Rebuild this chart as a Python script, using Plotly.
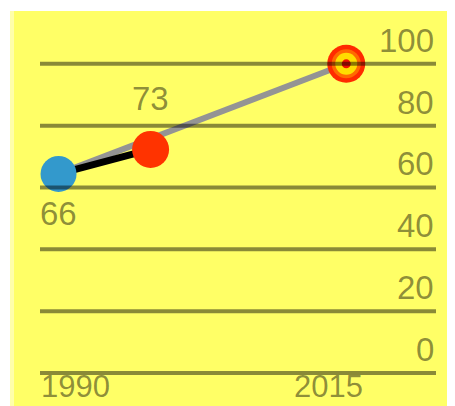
import plotly.graph_objects as go

# ---- data ----
years = [1990, 1998, 2015]          # baseline, latest, target
values = [64.4, 72.3, 100]          # plotted positions
point_labels = ["66", "73"]         # labels printed beside baseline / latest
y_ticks = [0, 20, 40, 60, 80, 100]
y_tick_labels = ["0", "20", "40", "60", "80", "100"]
x_tick_years = [1990, 2015]
x_tick_labels = ["1990", "2015"]

YELLOW = "#ffff66"
INK = "rgba(0,0,0,0.46)"
FONT = "Liberation Sans, Arial, sans-serif"

fig = go.Figure()

# gray line baseline -> target
fig.add_trace(go.Scatter(x=[years[0], years[2]], y=[values[0], values[2]], mode="lines",
                         line=dict(color="#949494", width=6), cliponaxis=False, hoverinfo="skip"))
# black line baseline -> latest
fig.add_trace(go.Scatter(x=[years[0], years[1]], y=[values[0], values[1]], mode="lines",
                         line=dict(color="#000000", width=7), cliponaxis=False, hoverinfo="skip"))
# baseline point
fig.add_trace(go.Scatter(x=[years[0]], y=[values[0]], mode="markers",
                         marker=dict(size=36, color="#3399cc", line=dict(width=0)), cliponaxis=False))
# latest point
fig.add_trace(go.Scatter(x=[years[1]], y=[values[1]], mode="markers",
                         marker=dict(size=37, color="#ff3300", line=dict(width=0)), cliponaxis=False))
# target bullseye
for size, color in [(38, "#ff2a00"), (29, "#ff6a00"), (22, "#ffdd00"), (9, "#ee1100")]:
    fig.add_trace(go.Scatter(x=[years[2]], y=[values[2]], mode="markers",
                             marker=dict(size=size, color=color, line=dict(width=0)), cliponaxis=False))

shapes = [dict(type="rect", xref="paper", yref="paper", x0=-30/396, x1=415/396, y0=0, y1=1,
               fillcolor=YELLOW, line=dict(width=0), layer="below"),
          dict(type="rect", xref="paper", yref="paper", x0=-30/396, x1=-26/396, y0=0, y1=1,
               fillcolor="#ffffaa", line=dict(width=0), layer="below")]
for v in y_ticks:
    shapes.append(dict(type="line", xref="paper", yref="y", x0=0, x1=1, y0=v, y1=v,
                       line=dict(color=INK, width=4), layer="above"))

annotations = []
for v, t in zip(y_ticks, y_tick_labels):
    annotations.append(dict(x=1, xref="paper", y=v, yref="y", text=t, showarrow=False,
                            xanchor="right", yanchor="bottom", yshift=3,
                            font=dict(family=FONT, size=33, color=INK)))
for yr, t, dx in zip(x_tick_years, x_tick_labels, [17, -18]):
    annotations.append(dict(x=yr, xref="x", y=0, yref="paper", text=t, showarrow=False,
                            xanchor="center", yanchor="bottom", xshift=dx, yshift=0,
                            font=dict(family=FONT, size=31, color=INK)))
annotations.append(dict(x=years[0], y=values[0], text=point_labels[0], showarrow=False,
                        xanchor="center", yanchor="middle", yshift=-40,
                        font=dict(family=FONT, size=33, color=INK)))
annotations.append(dict(x=years[1], y=values[1], text=point_labels[1], showarrow=False,
                        xanchor="center", yanchor="middle", yshift=51,
                        font=dict(family=FONT, size=33, color=INK)))

# page body has an 8px default margin, so the figure is sized/offset to compensate
fig.update_layout(
    width=447, height=398,
    margin=dict(l=32, r=19, t=3, b=0),
    paper_bgcolor="white", plot_bgcolor=YELLOW,
    showlegend=False,
    xaxis=dict(range=[1988.39, 2022.8], visible=False, fixedrange=True),
    yaxis=dict(range=[-10.67, 117.08], visible=False, fixedrange=True),
    shapes=shapes, annotations=annotations,
)

fig.write_html("out.html")
